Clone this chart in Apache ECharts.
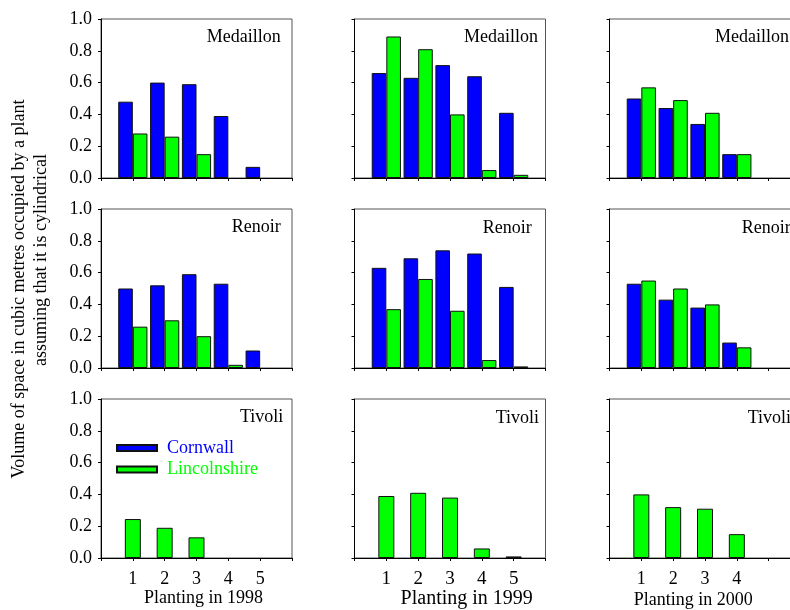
<!DOCTYPE html>
<html>
<head>
<meta charset="utf-8">
<script src="https://cdn.jsdelivr.net/npm/echarts@6/dist/echarts.min.js"></script>
<style>
html,body{margin:0;padding:0;background:#fff;}
#c{width:790px;height:610px;}
</style>
</head>
<body>
<div id="c"></div>
<script>
// ---- data ----
const ticks5 = ['', '1', '2', '3', '4', '5', ''];
const ticks4 = ['', '1', '2', '3', '4', '', ''];
const yTicks = [0, 0.2, 0.4, 0.6, 0.8, 1.0];
const varieties = ['Medaillon', 'Renoir', 'Tivoli'];
const plantings = ['Planting in 1998', 'Planting in 1999', 'Planting in 2000'];
const seriesNames = ['Cornwall', 'Lincolnshire'];

const cornwallMedaillon1998 = [0.48, 0.60, 0.59, 0.39, 0.07];
const lincsMedaillon1998    = [0.28, 0.26, 0.15, null, null];
const cornwallMedaillon1999 = [0.66, 0.63, 0.71, 0.64, 0.41];
const lincsMedaillon1999    = [0.89, 0.81, 0.40, 0.05, 0.02];
const cornwallMedaillon2000 = [0.50, 0.44, 0.34, 0.15];
const lincsMedaillon2000    = [0.57, 0.49, 0.41, 0.15];

const cornwallRenoir1998 = [0.50, 0.52, 0.59, 0.53, 0.11];
const lincsRenoir1998    = [0.26, 0.30, 0.20, 0.02, null];
const cornwallRenoir1999 = [0.63, 0.69, 0.74, 0.72, 0.51];
const lincsRenoir1999    = [0.37, 0.56, 0.36, 0.05, 0.01];
const cornwallRenoir2000 = [0.53, 0.43, 0.38, 0.16];
const lincsRenoir2000    = [0.55, 0.50, 0.40, 0.13];

const lincsTivoli1998 = [0.245, 0.19, 0.13, null, null];
const lincsTivoli1999 = [0.39, 0.41, 0.38, 0.06, 0.01];
const lincsTivoli2000 = [0.40, 0.32, 0.31, 0.15];

// ---- layout ----
const FONT = '"Liberation Serif", "Times New Roman", serif';
const colLeft = [101, 354.5, 609.5];
const rowTop = [19, 209, 399];
const W = 191, H = 159;
const BLUE = '#0000ff', GREEN = '#00ff00';

const panels = [
  {r:0,c:0,ticks:ticks5,cw:cornwallMedaillon1998,li:lincsMedaillon1998},
  {r:0,c:1,ticks:ticks5,cw:cornwallMedaillon1999,li:lincsMedaillon1999},
  {r:0,c:2,ticks:ticks4,cw:cornwallMedaillon2000,li:lincsMedaillon2000},
  {r:1,c:0,ticks:ticks5,cw:cornwallRenoir1998,li:lincsRenoir1998},
  {r:1,c:1,ticks:ticks5,cw:cornwallRenoir1999,li:lincsRenoir1999},
  {r:1,c:2,ticks:ticks4,cw:cornwallRenoir2000,li:lincsRenoir2000},
  {r:2,c:0,ticks:ticks5,cw:null,li:lincsTivoli1998},
  {r:2,c:1,ticks:ticks5,cw:null,li:lincsTivoli1999},
  {r:2,c:2,ticks:ticks4,cw:null,li:lincsTivoli2000}
];

function pad(vals){
  const out = ['-'];
  for (let i = 0; i < 5; i++) {
    const v = vals[i];
    out.push(v == null ? '-' : v);
  }
  out.push('-');
  return out;
}

const grids = [], xAxes = [], yAxes = [], series = [];
panels.forEach((p, i) => {
  grids.push({left: colLeft[p.c], top: rowTop[p.r], width: W, height: H,
    show: true, borderColor: '#555', borderWidth: 1, backgroundColor: 'transparent',
    containLabel: false, outerBoundsMode: 'none'});
  xAxes.push({type: 'category', gridIndex: i, data: p.ticks, boundaryGap: false,
    axisLine: {lineStyle: {color: '#000', width: 1}},
    axisTick: {show: true, interval: 0, length: 3, lineStyle: {color: '#000'}},
    axisLabel: {show: p.r === 2, interval: 0, margin: 12, color: '#000',
      fontFamily: FONT, fontSize: p.c === 1 ? 19 : 18},
    splitLine: {show: false}});
  yAxes.push({type: 'value', gridIndex: i, min: 0, max: 1, interval: 0.2,
    axisLine: {show: true, lineStyle: {color: '#000', width: 1}},
    axisTick: {show: true, length: 3, lineStyle: {color: '#000'}},
    axisLabel: {show: p.c === 0, margin: 9, color: '#000', fontFamily: FONT, fontSize: 18,
      formatter: v => v.toFixed(1)},
    splitLine: {show: false}});
  if (p.cw) {
    series.push({type: 'bar', name: seriesNames[0], xAxisIndex: i, yAxisIndex: i,
      data: pad(p.cw), barWidth: 14.6, barGap: '0%',
      itemStyle: {color: BLUE, borderColor: '#111', borderWidth: 1}});
    series.push({type: 'bar', name: seriesNames[1], xAxisIndex: i, yAxisIndex: i,
      data: pad(p.li), barWidth: 14.6, barGap: '0%',
      itemStyle: {color: GREEN, borderColor: '#111', borderWidth: 1}});
  } else {
    series.push({type: 'bar', name: seriesNames[1], xAxisIndex: i, yAxisIndex: i,
      data: pad(p.li), barWidth: 16,
      itemStyle: {color: GREEN, borderColor: '#111', borderWidth: 1}});
  }
});

// panel labels (start x, centre y)
const labelPos = [
  [[206.7, 37.3], [464, 37.3], [715, 37.3]],
  [[231.7, 227.7], [482.7, 228.3], [741.7, 228]],
  [[240, 417.3], [495.7, 418.3], [747.7, 418]]
];
const graphics = [];
varieties.forEach((name, r) => {
  labelPos[r].forEach(pos => {
    graphics.push({type: 'text', x: pos[0], y: pos[1], silent: true,
      style: {text: name, fill: '#000', font: '18px ' + FONT, align: 'left', verticalAlign: 'middle'}});
  });
});
const xTitlePos = [[203.5, 598, 18], [466.7, 598.3, 20], [693.3, 600, 18]];
plantings.forEach((t, c) => {
  const p = xTitlePos[c];
  graphics.push({type: 'text', x: p[0], y: p[1], silent: true,
    style: {text: t, fill: '#000', font: p[2] + 'px ' + FONT, align: 'center', verticalAlign: 'middle'}});
});
graphics.push({type: 'text', x: 19, y: 289, rotation: Math.PI / 2, silent: true,
  style: {text: 'Volume of space in cubic metres occupied by a plant', fill: '#000',
    font: '18px ' + FONT, align: 'center', verticalAlign: 'middle'}});
graphics.push({type: 'text', x: 41, y: 260, rotation: Math.PI / 2, silent: true,
  style: {text: 'assuming that it is cylindrical', fill: '#000',
    font: '18px ' + FONT, align: 'center', verticalAlign: 'middle'}});

const chart = echarts.init(document.getElementById('c'), null, {renderer: 'canvas'});
chart.setOption({
  animation: false,
  backgroundColor: '#fff',
  grid: grids,
  xAxis: xAxes,
  yAxis: yAxes,
  series: series,
  legend: {
    orient: 'vertical', left: 116, top: 439, padding: 0, itemGap: 3.5,
    itemWidth: 40, itemHeight: 6, icon: 'rect', selectedMode: false,
    textStyle: {fontFamily: FONT, fontSize: 18, padding: [0, 0, 0, 5]},
    data: [
      {name: seriesNames[0], textStyle: {color: BLUE}},
      {name: seriesNames[1], textStyle: {color: GREEN}}
    ]
  },
  graphic: graphics
});
</script>
</body>
</html>
